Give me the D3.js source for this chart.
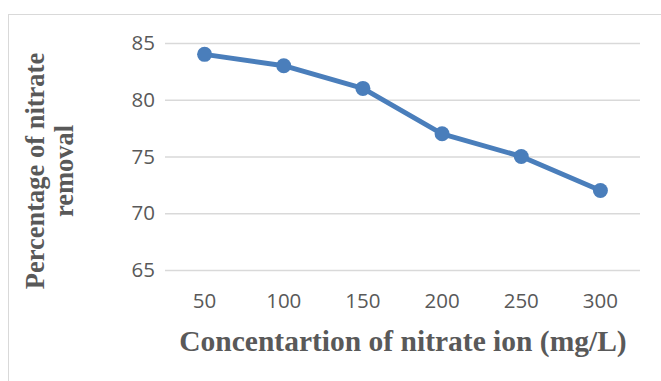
<!DOCTYPE html>
<html>
<head>
<meta charset="utf-8">
<script src="https://cdnjs.cloudflare.com/ajax/libs/d3/7.8.5/d3.min.js"></script>
<style>
  body { margin: 0; background: #fff; }
  svg { display: block; }
</style>
</head>
<body>
<svg id="chart"></svg>
<script>
// data
var concentrations = ["50", "100", "150", "200", "250", "300"];
var removal = [84, 83, 81, 77, 75, 72];
var yTicks = [65, 70, 75, 80, 85];

var W = 661, H = 381;
var margin = {top: 43, right: 21, bottom: 111, left: 165};
var innerW = W - margin.left - margin.right;
var innerH = H - margin.top - margin.bottom;
var tickFont = "'Open Sans', 'Liberation Sans', sans-serif";
var titleFont = "'Liberation Serif', 'DejaVu Serif', serif";

var svg = d3.select("#chart").attr("width", W).attr("height", H);

// chart frame (runs off the right and bottom edges)
svg.append("rect")
    .attr("x", 8.5).attr("y", 14.5)
    .attr("width", 700).attr("height", 400)
    .attr("fill", "none")
    .attr("stroke", "#d9d9d9")
    .attr("stroke-width", 1);

var chart = svg.append("g")
    .attr("transform", `translate(${margin.left}, ${margin.top})`);

var xScale = d3.scaleBand()
    .domain(concentrations)
    .range([0, innerW]);

var yScale = d3.scaleLinear()
    .domain([65, 85])
    .range([innerH, 0]);

// gridlines + y labels
var yAxis = d3.axisLeft(yScale)
    .tickValues(yTicks)
    .tickSize(-innerW)
    .tickPadding(10)
    .tickFormat(d3.format("d"));

var yG = chart.append("g").attr("class", "axis y-axis").call(yAxis);
yG.select(".domain").remove();
yG.selectAll("line").attr("stroke", "#d9d9d9").attr("stroke-width", 1.5);
yG.selectAll("text")
    .attr("fill", "#595959")
    .attr("font-size", "20.5px")
    .attr("font-family", tickFont);

// x labels
var xAxis = d3.axisBottom(xScale).tickSize(0).tickPadding(23);
var xG = chart.append("g")
    .attr("class", "axis x-axis")
    .attr("transform", `translate(0, ${innerH})`)
    .call(xAxis);
xG.select(".domain").remove();
xG.selectAll("text")
    .attr("fill", "#595959")
    .attr("font-size", "20.5px")
    .attr("font-family", tickFont);

var pts = concentrations.map((c, i) => ({c: c, v: removal[i]}));
var cx = d => xScale(d.c) + xScale.bandwidth() / 2;

var line = d3.line()
    .x(cx)
    .y(d => yScale(d.v));

chart.append("path")
    .datum(pts)
    .attr("fill", "none")
    .attr("stroke", "#4a7ebb")
    .attr("stroke-width", 5)
    .attr("stroke-linejoin", "round")
    .attr("d", line);

chart.selectAll("circle")
    .data(pts)
    .enter().append("circle")
    .attr("cx", cx)
    .attr("cy", d => yScale(d.v))
    .attr("r", 7.5)
    .attr("fill", "#4a7ebb");

// axis titles
svg.append("text")
    .attr("x", 403)
    .attr("y", 351)
    .attr("text-anchor", "middle")
    .attr("font-family", titleFont)
    .attr("font-weight", "bold")
    .attr("font-size", "29.5px")
    .attr("fill", "#595959")
    .text("Concentartion of nitrate ion (mg/L)");

var yTitle = svg.append("text")
    .attr("transform", "translate(44, 171) rotate(-90)")
    .attr("text-anchor", "middle")
    .attr("font-family", titleFont)
    .attr("font-weight", "bold")
    .attr("font-size", "26.5px")
    .attr("fill", "#595959");
yTitle.append("tspan").attr("x", 0).attr("dy", 0).text("Percentage of nitrate");
yTitle.append("tspan").attr("x", 0).attr("dy", 29).text("removal");
</script>
</body>
</html>
